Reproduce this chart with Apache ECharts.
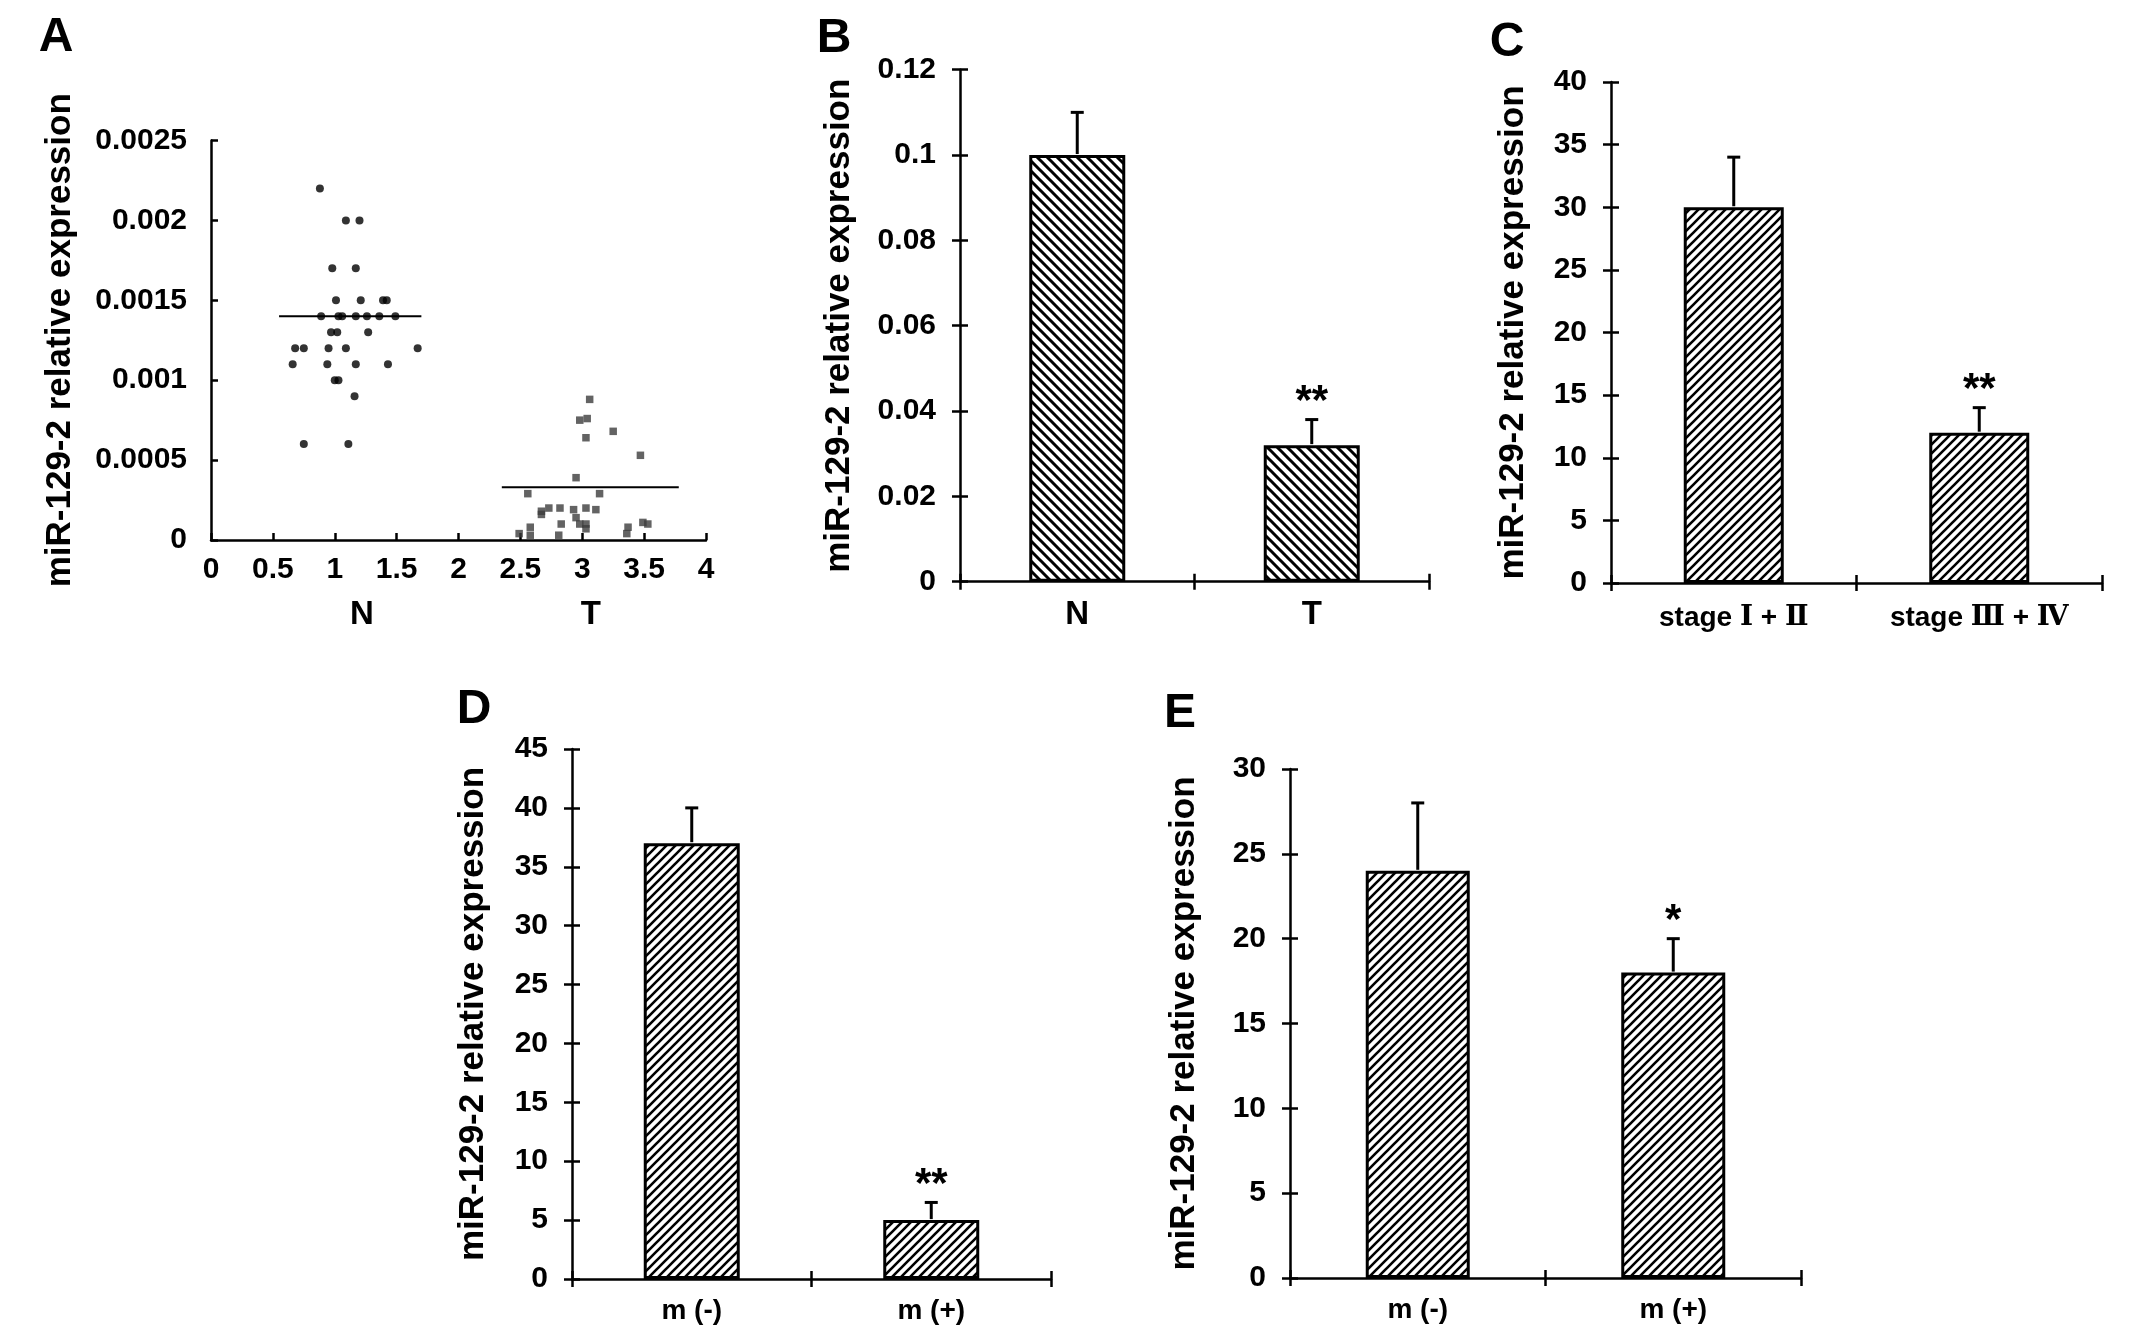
<!DOCTYPE html>
<html><head><meta charset="utf-8">
<script src="https://cdn.jsdelivr.net/npm/echarts@6.0.0/dist/echarts.min.js"></script>
<style>html,body{margin:0;padding:0;background:#fff}#c{width:2150px;height:1329px}</style>
</head><body><div id="c"></div><script>
// ---------- data ----------
const yTitle = 'miR-129-2 relative expression';
const scatterN = [[0.88,0.0022],[1.09,0.002],[1.2,0.002],[0.98,0.0017],[1.17,0.0017],[1.01,0.0015],[1.21,0.0015],[1.39,0.0015],[1.42,0.0015],
  [0.89,0.0014],[1.03,0.0014],[1.06,0.0014],[1.17,0.0014],[1.26,0.0014],[1.36,0.0014],[1.49,0.0014],
  [0.97,0.0013],[1.02,0.0013],[1.27,0.0013],
  [0.68,0.0012],[0.75,0.0012],[0.95,0.0012],[1.09,0.0012],[1.67,0.0012],
  [0.66,0.0011],[0.94,0.0011],[1.17,0.0011],[1.43,0.0011],
  [1.0,0.001],[1.03,0.001],[1.16,0.0009],[0.75,0.0006],[1.11,0.0006]];
const scatterT = [[3.06,0.00088],[2.98,0.00075],[3.04,0.00076],[3.25,0.00068],[3.03,0.00064],[3.47,0.00053],[2.95,0.00039],
  [2.56,0.00029],[3.14,0.00029],[2.67,0.00018],[2.67,0.00016],[2.73,0.0002],[2.82,0.0002],
  [2.93,0.00019],[2.95,0.00014],[2.98,0.0001],[3.03,0.0001],[3.03,0.00007],[3.03,0.0002],[3.11,0.00019],
  [2.58,0.00008],[2.58,0.00003],[2.49,0.00004],[2.83,0.0001],[2.81,0.00003],[3.37,0.00008],[3.36,0.00004],
  [3.49,0.00011],[3.53,0.0001]];
const meanLineN = [[0.55,0.0014],[1.7,0.0014]];
const meanLineT = [[2.35,0.00033],[3.78,0.00033]];
const groupLabelsA = ['N','T'];
const groupLabelValuesA = [1.22,3.07];

const catsB = ['N','T'];             const valsB = [0.1, 0.032]; const errB = [0.01, 0.006]; const sigB = ['', '**'];
const catsC = ['stage Ⅰ + Ⅱ','stage Ⅲ + Ⅳ']; const valsC = [30, 12]; const errC = [4, 2]; const sigC = ['', '**'];
const catsD = ['m (-)','m (+)'];     const valsD = [37, 5];  const errD = [3, 1.5]; const sigD = ['', '**'];
const catsE = ['m (-)','m (+)'];     const valsE = [24, 18]; const errE = [4, 2];   const sigE = ['', '*'];

// ---------- helpers ----------
const FONT = "'Liberation Sans', Arial, Helvetica, sans-serif";
const BLK = '#000';
function hatch(dir, s, lw) {
  const c = document.createElement('canvas'); c.width = s; c.height = s;
  const g = c.getContext('2d');
  g.fillStyle = '#fff'; g.fillRect(0, 0, s, s);
  g.strokeStyle = '#000'; g.lineWidth = lw; g.beginPath();
  if (dir === '/') {
    g.moveTo(0, s); g.lineTo(s, 0);
    g.moveTo(-s/2, s/2); g.lineTo(s/2, -s/2);
    g.moveTo(s/2, 1.5*s); g.lineTo(1.5*s, s/2);
  } else {
    g.moveTo(0, 0); g.lineTo(s, s);
    g.moveTo(-s/2, s/2); g.lineTo(s/2, 1.5*s);
    g.moveTo(s/2, -s/2); g.lineTo(1.5*s, s/2);
  }
  g.stroke();
  return c;
}
const axisLine = {show: true, lineStyle: {color: BLK, width: 2.5}};
const tickStyle = {color: BLK, width: 2.5};
const tickLabel = {color: BLK, fontSize: 30, fontWeight: 'bold', fontFamily: FONT};
const nameStyle = {color: BLK, fontSize: 35, fontWeight: 'bold', fontFamily: FONT};

const grids = [
  {left: 211, top: 140.5, width: 495, height: 399.5},
  {left: 960, top: 69.7, width: 469, height: 512},
  {left: 1611, top: 82, width: 491, height: 501},
  {left: 572, top: 749, width: 479, height: 530},
  {left: 1290, top: 769, width: 511, height: 509}
].map(g => Object.assign({outerBoundsMode: 'none', containLabel: false}, g));

const xAxes = [], yAxes = [], series = [];

// Panel A
xAxes.push({type: 'value', gridIndex: 0, position: 'bottom', min: 0, max: 4, interval: 0.5, axisLine,
  axisTick: {show: true, inside: true, length: 7, lineStyle: tickStyle},
  axisLabel: Object.assign({margin: 15}, tickLabel), splitLine: {show: false}});
xAxes.push({type: 'value', gridIndex: 0, position: 'bottom', min: 0, max: 4, axisLine: {show: false}, axisTick: {show: false}, splitLine: {show: false},
  axisLabel: {show: true, customValues: groupLabelValuesA, margin: 58, color: BLK, fontSize: 33, fontWeight: 'bold', fontFamily: FONT,
    formatter: v => { const i = groupLabelValuesA.findIndex(p => Math.abs(p - v) < 0.01); return i >= 0 ? groupLabelsA[i] : ''; }}});
yAxes.push({type: 'value', gridIndex: 0, position: 'left', min: 0, max: 0.0025, interval: 0.0005, axisLine,
  axisTick: {show: true, inside: true, length: 7, lineStyle: tickStyle},
  axisLabel: Object.assign({margin: 24}, tickLabel), splitLine: {show: false},
  name: yTitle, nameLocation: 'middle', nameGap: 133, nameTextStyle: nameStyle});
series.push({type: 'scatter', xAxisIndex: 0, yAxisIndex: 0, data: scatterN, symbol: 'circle', symbolSize: 8,
  itemStyle: {color: '#000'}, z: 3});
series.push({type: 'scatter', xAxisIndex: 0, yAxisIndex: 0, data: scatterT, symbol: 'rect', symbolSize: 7.5,
  itemStyle: {color: '#3c3c3c'}, z: 3});
series.push({type: 'line', xAxisIndex: 0, yAxisIndex: 0, data: meanLineN, symbol: 'none', lineStyle: {color: '#000', width: 2}, z: 4});
series.push({type: 'line', xAxisIndex: 0, yAxisIndex: 0, data: meanLineT, symbol: 'none', lineStyle: {color: '#000', width: 2}, z: 4});

// Bar panels
const barPanels = [
  {cats: catsB, vals: valsB, err: errB, sig: sigB, max: 0.12, interval: 0.02, barW: 96, pat: hatch('\\', 10, 3), nameGap: 103, catFont: 33, catMargin: 17},
  {cats: catsC, vals: valsC, err: errC, sig: sigC, max: 40, interval: 5, barW: 100, pat: hatch('/', 9, 2.6), nameGap: 80, catFont: 28, catMargin: 21},
  {cats: catsD, vals: valsD, err: errD, sig: sigD, max: 45, interval: 5, barW: 96, pat: hatch('/', 9, 2.6), nameGap: 81, catFont: 28, catMargin: 18},
  {cats: catsE, vals: valsE, err: errE, sig: sigE, max: 30, interval: 5, barW: 104, pat: hatch('/', 9, 2.6), nameGap: 88, catFont: 28, catMargin: 18}
];
barPanels.forEach((p, i) => {
  const gi = i + 1;
  const xi = xAxes.length, yi = yAxes.length;
  xAxes.push({type: 'category', gridIndex: gi, position: 'bottom', data: p.cats, boundaryGap: true, axisLine,
    axisTick: {show: true, inside: false, length: 8, lineStyle: tickStyle, alignWithLabel: false, interval: 0},
    axisLabel: {interval: 0, hideOverlap: false, margin: p.catMargin, color: BLK, fontSize: p.catFont, fontWeight: 'bold', fontFamily: FONT,
      formatter: s => s.replace(/([ⅠⅡⅢⅣ]+)/g, '{r|$1}'),
      rich: {r: {fontFamily: "'DejaVu Serif', 'Noto Sans CJK SC', serif", fontWeight: 'bold', fontSize: p.catFont, color: BLK}}}});
  xAxes.push({type: 'category', gridIndex: gi, position: 'bottom', data: p.cats, boundaryGap: true, axisLine: {show: false},
    axisTick: {show: true, inside: true, length: 8, lineStyle: tickStyle, interval: 0}, axisLabel: {show: false}});
  yAxes.push({type: 'value', gridIndex: gi, position: 'left', min: 0, max: p.max, interval: p.interval, axisLine,
    axisTick: {show: true, inside: false, length: 8, lineStyle: tickStyle},
    axisLabel: Object.assign({margin: 24}, tickLabel), splitLine: {show: false},
    name: yTitle, nameLocation: 'middle', nameGap: p.nameGap, nameTextStyle: nameStyle});
  yAxes.push({type: 'value', gridIndex: gi, position: 'left', offset: 0, min: 0, max: p.max, interval: p.interval, axisLine: {show: false},
    axisTick: {show: true, inside: true, length: 8, lineStyle: tickStyle}, axisLabel: {show: false}, splitLine: {show: false}});
  series.push({type: 'bar', xAxisIndex: xi, yAxisIndex: yi, data: p.vals, barWidth: p.barW,
    itemStyle: {color: {image: p.pat, repeat: 'repeat'}, borderColor: '#000', borderWidth: 3}, z: 2});
  series.push({type: 'custom', xAxisIndex: xi, yAxisIndex: yi, z: 5,
    data: p.vals.map((v, k) => [k, v, p.err[k]]),
    renderItem: (params, api) => {
      const k = api.value(0), v = api.value(1), e = api.value(2);
      const a = api.coord([k, v]), b = api.coord([k, v + e]);
      const st = {stroke: '#000', lineWidth: 3};
      const children = [
        {type: 'line', shape: {x1: a[0], y1: a[1] - 1, x2: b[0], y2: b[1]}, style: st},
        {type: 'line', shape: {x1: b[0] - 6.5, y1: b[1], x2: b[0] + 6.5, y2: b[1]}, style: st}
      ];
      const s = p.sig[params.dataIndex];
      if (s) children.push({type: 'text', x: b[0], y: b[1] - 17,
        style: {text: s, fill: '#000', font: 'bold 42px ' + FONT, align: 'center', verticalAlign: 'middle'}});
      return {type: 'group', children};
    }});
});

const letter = (t, x, y) => ({type: 'text', x, y, style: {text: t, fill: '#000', font: 'bold 48px ' + FONT, align: 'center', verticalAlign: 'middle'}});

const chart = echarts.init(document.getElementById('c'), null, {renderer: 'canvas'});
chart.setOption({
  animation: false,
  backgroundColor: '#fff',
  grid: grids,
  xAxis: xAxes,
  yAxis: yAxes,
  series,
  graphic: [letter('A', 56, 38), letter('B', 834, 39), letter('C', 1507, 43), letter('D', 474, 710), letter('E', 1180, 714)]
});
</script></body></html>
